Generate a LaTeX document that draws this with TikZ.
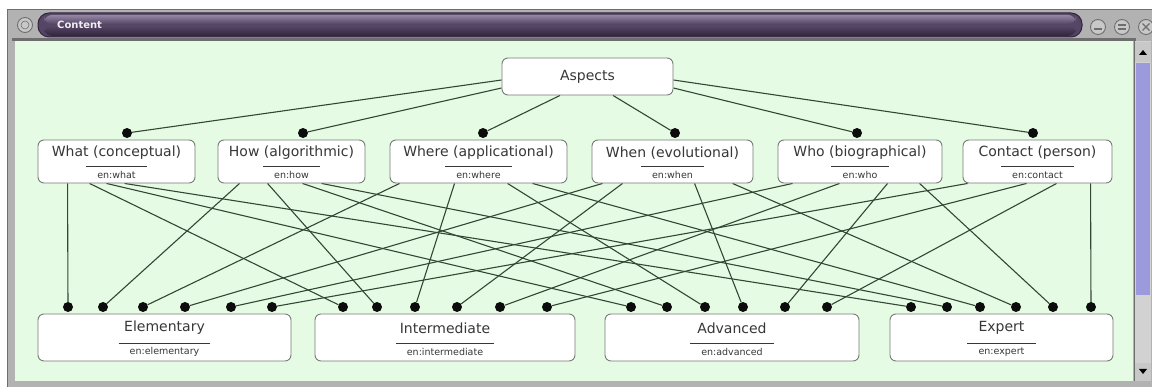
\documentclass[tikz,border=0pt]{standalone}
\usepackage{fontspec}
\setmainfont{DejaVu Sans}
\newcommand\mainsz{\fontsize{14}{16}\selectfont}
\newcommand\subsz{\fontsize{9.5}{11}\selectfont}
\newcommand\barsz{\fontsize{10}{12}\selectfont\bfseries}
\definecolor{canvasgreen}{RGB}{230,251,228}
\definecolor{frame}{RGB}{178,178,178}
\definecolor{framedark}{RGB}{110,110,110}
\definecolor{boxline}{RGB}{118,124,118}
\definecolor{labeltext}{RGB}{55,55,55}
\definecolor{linkgreen}{RGB}{52,70,52}
\definecolor{dotblack}{RGB}{12,12,12}
\definecolor{barhi}{RGB}{150,134,166}
\definecolor{barmid}{RGB}{86,70,102}
\definecolor{barlo}{RGB}{48,36,60}
\definecolor{thumb}{RGB}{156,154,220}
\definecolor{track}{RGB}{210,210,210}
\definecolor{btn}{RGB}{200,200,200}
\pgfdeclarelayer{bg}
\pgfdeclarelayer{edges}
\pgfsetlayers{bg,edges,main}
\begin{document}
\begin{tikzpicture}[x=1pt,y=-1pt,
  box/.style={draw=boxline, fill=white, line width=0.9pt, rounded corners=6pt, inner sep=0pt},
  midbox/.style={box, minimum height=43pt},
  lowbox/.style={box, minimum height=47pt},
  title/.style={font=\mainsz, text=labeltext, inner sep=0pt},
  subtitle/.style={font=\subsz, text=labeltext, inner xsep=11pt, inner ysep=0pt, minimum height=16pt},
  rule/.style={draw=labeltext, line width=0.9pt},
  port/.style={circle, fill=dotblack, inner sep=0pt, minimum size=10pt},
  link/.style={draw=linkgreen, line width=1.1pt},
  winbtn/.style={circle, draw=framedark, fill=btn, line width=0.9pt, minimum size=15pt, inner sep=0pt}]
\useasboundingbox (0,0) rectangle (1152,387);

% window chrome
\begin{pgfonlayer}{bg}
  \fill[white] (0,0) rectangle (1152,387);
  \fill[frame] (7,9) rectangle (1152,387);
  \draw[framedark, line width=0.8pt] (7,9) -- (1152,9);
  \draw[framedark, line width=0.8pt] (7,9) -- (7,387);
  \fill[barmid, rounded corners=11pt] (38,13) rectangle (1082,37);
  \shade[top color=barhi, bottom color=barmid, rounded corners=8pt]
    (44,15) rectangle (1076,24);
  \shade[top color=barmid, bottom color=barlo, rounded corners=8pt]
    (44,26) rectangle (1076,36);
  \draw[barlo, line width=1pt, rounded corners=11pt] (38,13) rectangle (1082,37);
  \fill[framedark] (12,38) rectangle (1136,41);
  \fill[canvasgreen] (15,41) rectangle (1133,381);
  \draw[framedark, line width=0.8pt] (1134,41) -- (1134,381);
  \fill[track] (1135,41) rectangle (1151,381);
  \fill[btn] (1135,42) rectangle (1151,62);
  \fill[thumb] (1136,63) rectangle (1150,295);
  \fill[btn] (1135,363) rectangle (1151,381);
  \fill[black] (1139,55) -- (1147,55) -- (1143,50) -- cycle;
  \fill[black] (1139,369) -- (1147,369) -- (1143,374) -- cycle;
\end{pgfonlayer}

\node[circle, draw=framedark, fill=btn, line width=0.9pt, minimum size=15pt, inner sep=0pt] (menu) at (25,25) {};
\node[circle, draw=framedark, line width=0.6pt, minimum size=8pt, inner sep=0pt] (menuin) at (menu.center) {};
\node[font=\barsz, text=white!85!barhi, anchor=west, inner sep=0pt] (wintitle) at (57,25) {Content};
\node[winbtn] (bmin) at (1098,27) {};
\node[winbtn] (bmax) at (1122,27) {};
\node[winbtn] (bclose) at (1146,27) {};
\draw[framedark, line width=1.2pt] ([xshift=-4pt,yshift=-2pt]bmin.center) -- ([xshift=4pt,yshift=-2pt]bmin.center);
\draw[framedark, line width=1.2pt] ([xshift=-4pt,yshift=2pt]bmax.center) -- ([xshift=4pt,yshift=2pt]bmax.center);
\draw[framedark, line width=1.2pt] ([xshift=-4pt,yshift=-2pt]bmax.center) -- ([xshift=4pt,yshift=-2pt]bmax.center);
\draw[framedark, line width=1.2pt] ([xshift=-3.5pt,yshift=-3.5pt]bclose.center) -- ([xshift=3.5pt,yshift=3.5pt]bclose.center);
\draw[framedark, line width=1.2pt] ([xshift=-3.5pt,yshift=3.5pt]bclose.center) -- ([xshift=3.5pt,yshift=-3.5pt]bclose.center);

% root
\node[box, minimum width=171pt, minimum height=37pt, font=\mainsz, text=labeltext] (aspects) at (587.5,76.5) {Aspects};

% aspect nodes
\foreach \n/\cx/\w/\t/\s in {
  what/116.5/157/What (conceptual)/en:what,
  how/291.5/147/How (algorithmic)/en:how,
  where/478.5/177/Where (applicational)/en:where,
  when/672.5/161/When (evolutional)/en:when,
  who/860/164/Who (biographical)/en:who,
  contact/1037.5/149/Contact (person)/en:contact} {
  \node[midbox, minimum width=\w pt] (\n) at (\cx,161.5) {};
  \node[title] (\n-t) at ([yshift=8.5pt]\n.center) {\t};
  \node[subtitle] (\n-s) at ([yshift=-13.5pt]\n.center) {\s};
  \draw[rule] (\n-s.north west) -- (\n-s.north east);
}

% level nodes
\foreach \n/\cx/\w/\t/\s in {
  elem/164.5/253/Elementary/en:elementary,
  inter/445/260/Intermediate/en:intermediate,
  adv/732/254/Advanced/en:advanced,
  exp/1001.5/223/Expert/en:expert} {
  \node[lowbox, minimum width=\w pt] (\n) at (\cx,337.5) {};
  \node[title] (\n-t) at ([yshift=9.5pt]\n.center) {\t};
  \node[subtitle, minimum height=17pt] (\n-s) at ([yshift=-14.5pt]\n.center) {\s};
  \draw[rule] (\n-s.north west) -- (\n-s.north east);
}

% incoming dots on the aspect nodes
\foreach \n/\x in {what/127, how/303, where/483, when/675, who/857, contact/1033}
  \node[port] (\n-in) at (\x,133) {};

% incoming dots on the level nodes
\foreach \n/\xa/\xb/\xc/\xd/\xe/\xf in {
  elem/68/103/143/185/231/272,
  inter/343/377/415/457/500/547,
  adv/631/667/705/743/785/827,
  exp/911/947/980/1016/1053/1091} {
  \node[port] (\n-1) at (\xa,307) {};
  \node[port] (\n-2) at (\xb,307) {};
  \node[port] (\n-3) at (\xc,307) {};
  \node[port] (\n-4) at (\xd,307) {};
  \node[port] (\n-5) at (\xe,307) {};
  \node[port] (\n-6) at (\xf,307) {};
}

\begin{pgfonlayer}{edges}
  % root to aspects
  \draw[link] ([yshift=-3.5pt]aspects.west) -- (what-in);
  \draw[link] ([yshift=-11.5pt]aspects.west) -- (how-in);
  \draw[link] ([xshift=-27.5pt]aspects.south) -- (where-in);
  \draw[link] ([xshift=25.5pt]aspects.south) -- (when-in);
  \draw[link] ([yshift=-11.5pt]aspects.east) -- (who-in);
  \draw[link] ([yshift=-3.5pt]aspects.east) -- (contact-in);
  % aspects to levels
  \foreach \m/\i/\a/\b/\c/\d in {
    what/1/30/52/69/87,
    how/2/22/50/85/104,
    where/3/10/65/118/143,
    when/4/11/31/103/141,
    who/5/15/62/110/142,
    contact/6/5/64/94/128} {
    \draw[link] ([xshift=\a pt]\m.south west) -- (elem-\i);
    \draw[link] ([xshift=\b pt]\m.south west) -- (inter-\i);
    \draw[link] ([xshift=\c pt]\m.south west) -- (adv-\i);
    \draw[link] ([xshift=\d pt]\m.south west) -- (exp-\i);
  }
\end{pgfonlayer}
\end{tikzpicture}
\end{document}
